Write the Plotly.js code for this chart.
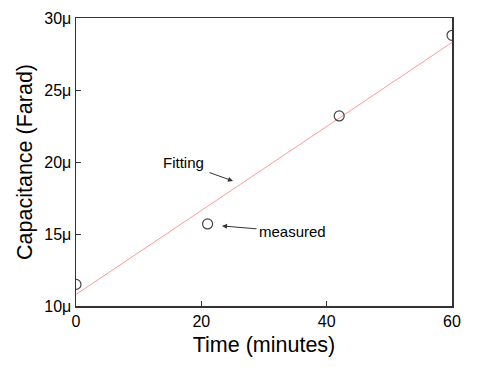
<!DOCTYPE html>
<html><head><meta charset="utf-8">
<script src="https://cdn.plot.ly/plotly-3.0.1.min.js"></script>
<style>html,body{margin:0;padding:0;background:#fff}#c{width:478px;height:370px}</style>
</head><body><div id="c"></div>
<script>
const measuredTime = [0, 21, 42, 60];
const measuredCap = [11.5, 15.7, 23.2, 28.8];
const fitTime = [0, 60];
const fitCap = [10.8, 28.3];
const yTicks = [10, 15, 20, 25, 30];
const yTickText = ['10μ', '15μ', '20μ', '25μ', '30μ'];
const xTicks = [0, 20, 40, 60];

const traces = [
  {x: fitTime, y: fitCap, mode: 'lines', line: {color: '#ff9a9a', width: 1}, hoverinfo: 'skip'},
  {x: measuredTime, y: measuredCap, mode: 'markers',
   marker: {symbol: 'circle-open', size: 10, color: '#444', line: {width: 1.2, color: '#444'}}}
];
const fam = 'Liberation Sans, Arial, sans-serif';
const layout = {
  width: 478, height: 370, showlegend: false,
  margin: {l: 76, r: 26, t: 18, b: 64},
  paper_bgcolor: '#fff', plot_bgcolor: '#fff',
  font: {family: fam, color: '#000'},
  xaxis: {range: [0, 60], tickmode: 'array', tickvals: xTicks, ticks: 'inside', ticklen: 5, tickcolor: '#333',
    showline: true, linecolor: '#333', linewidth: 1.5, mirror: true, showgrid: false, zeroline: false,
    tickfont: {size: 16, family: fam, color: '#000'},
    title: {text: 'Time (minutes)', font: {size: 21.5, family: fam, color: '#000'}, standoff: 8}},
  yaxis: {range: [10, 30], tickmode: 'array', tickvals: yTicks, ticktext: yTickText, ticks: 'inside', ticklen: 5, tickcolor: '#333',
    showline: true, linecolor: '#333', linewidth: 1.5, mirror: true, showgrid: false, zeroline: false,
    tickfont: {size: 16, family: fam, color: '#000'},
    title: {text: 'Capacitance (Farad)', font: {size: 21.5, family: fam, color: '#000'}, standoff: 6}},
  annotations: [
    {x: 25.05, y: 18.68, ax: -25, ay: -9, showarrow: true, arrowhead: 2, arrowsize: 1, arrowwidth: 1, arrowcolor: '#333', text: ''},
    {x: 17.2, y: 20.0, text: 'Fitting', showarrow: false, font: {size: 15, family: fam, color: '#000'}},
    {x: 23.3, y: 15.56, ax: 36, ay: 3, showarrow: true, arrowhead: 2, arrowsize: 1, arrowwidth: 1, arrowcolor: '#333', text: ''},
    {x: 34.6, y: 15.14, text: 'measured', showarrow: false, font: {size: 15, family: fam, color: '#000'}}
  ]
};
Plotly.newPlot('c', traces, layout, {staticPlot: true});
</script></body></html>
